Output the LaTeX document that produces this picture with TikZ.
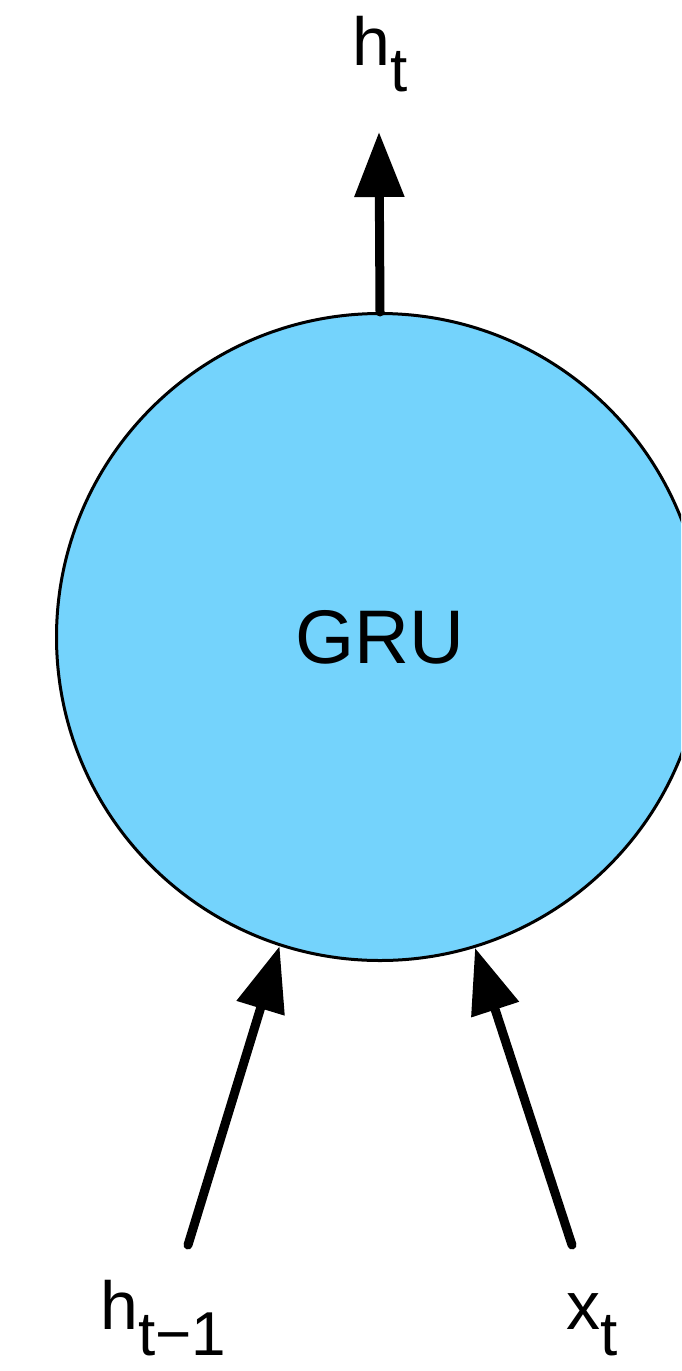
\documentclass[tikz,border=0pt]{standalone}
\usepackage{fontspec}
\setmainfont{Liberation Sans}
\usetikzlibrary{arrows.meta}
\definecolor{grublue}{RGB}{116,211,252}
\newcommand{\mysub}[1]{\raisebox{-26pt}{\fontsize{62}{64}\selectfont #1}}
\begin{document}
\begin{tikzpicture}[x=1pt,y=-1pt,
  conn/.style={line width=9pt, line cap=round, -{Triangle[length=65pt,width=48pt]}},
  lbl/.style={inner sep=0pt, anchor=base west, font=\fontsize{68}{80}\selectfont},
  cell/.style={circle, draw=black, line width=3pt, fill=grublue, minimum size=647pt, inner sep=0pt, font=\fontsize{76}{90}\selectfont}]
\clip (0,0) rectangle (681,1371);
\node[cell] (gru) at (380,637) {GRU};
\coordinate (ttip) at (379,132);
\coordinate (ltail) at (188,1245);
\coordinate (rtail) at (572,1245);
\draw[conn] (gru.north) -- (ttip);
\draw[conn] (ltail) -- (gru.252.4);
\draw[conn] (rtail) -- (gru.287);
\node[lbl] (ht) at (352,65) {h\mysub{t}};
\node[lbl] (htm) at (100,1329) {h\mysub{t−1}};
\node[lbl] (xt) at (566,1329) {x\mysub{t}};
\end{tikzpicture}
\end{document}
